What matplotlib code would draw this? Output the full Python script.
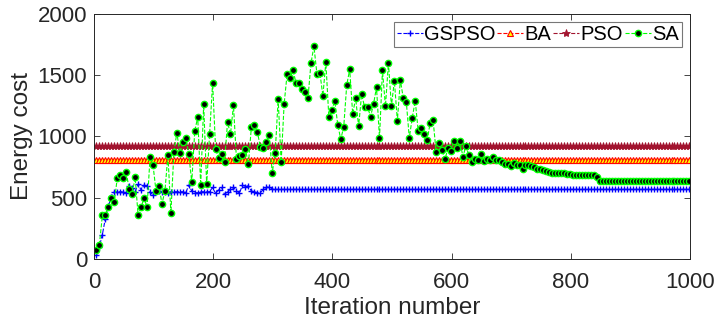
import numpy as np
import matplotlib
matplotlib.use("Agg")
import matplotlib.pyplot as plt

plt.rcParams['font.family'] = ['Liberation Sans', 'DejaVu Sans']

# iteration numbers (one marker every 5 iterations)
iters = np.arange(4, 1000, 5)

# SA energy cost
sa_cost = [
    73, 117, 356, 356, 427, 498, 468, 659, 683, 659,
    707, 571, 531, 667, 356, 422, 500, 422, 830, 767,
    555, 593, 451, 555, 849, 375, 871, 1031, 865, 952,
    988, 857, 626, 1045, 1157, 601, 1263, 610, 1020, 1440,
    898, 822, 855, 789, 1116, 1020, 1255, 814, 841, 846,
    900, 773, 1075, 1096, 1040, 917, 903, 958, 1015, 702,
    865, 1306, 792, 1265, 1510, 1480, 1540, 1434, 1434, 1390,
    1363, 1312, 1597, 1736, 1513, 1521, 1331, 1608, 1159, 1219,
    1287, 1096, 977, 1078, 1418, 1548, 1184, 1312, 1083, 1344,
    1241, 1241, 1162, 1265, 1401, 985, 1540, 1246, 1600, 1249,
    1453, 1129, 1461, 1312, 1284, 988, 1153, 1292, 1042, 1067,
    1020, 969, 1110, 1132, 876, 944, 887, 814, 906, 882,
    961, 903, 963, 835, 922, 849, 792, 814, 808, 857,
    800, 819, 811, 830, 805, 808, 794, 776, 776, 759,
    780, 770, 770, 737, 765, 765, 759, 748, 732, 732,
    727, 716, 710, 705, 705, 700, 700, 700, 694, 694,
    688, 683,
] + [683] * 6 + [667] + [637] * 31

# GSPSO energy cost
gspso_cost = [
    30, 100, 200, 330, 430, 510, 549, 549, 549, 549,
    541, 596, 580, 549, 610, 563, 604, 596, 549, 522,
    557, 555, 549, 549, 541, 549, 549, 549, 549, 549,
    541, 604, 555, 541, 541, 549, 549, 549, 549, 584,
    535, 563, 584, 527, 549, 571, 584, 557, 535, 604,
    590, 599, 555, 549, 541, 541, 568, 584, 590, 571,
] + [568] * 140

# BA and PSO stay flat over all iterations
ba_level = 805
pso_level = 922
ba_cost = [ba_level] * len(iters)
pso_cost = [pso_level] * len(iters)

fig = plt.figure(figsize=(7.15, 3.25), dpi=100)
ax = fig.add_axes([0.1315, 0.203, 0.8335, 0.754])

ax.plot(iters, gspso_cost, linestyle='--', color='#0000ff', linewidth=0.8,
        marker='+', markersize=5, markeredgewidth=1.0, label='GSPSO')
ax.plot(iters, ba_cost, linestyle='--', color='#ff0000', linewidth=0.8,
        marker='^', markersize=4, markerfacecolor='#ffff00',
        markeredgecolor='#ff0000', markeredgewidth=0.8, label='BA')
ax.plot(iters, pso_cost, linestyle='--', color='#a2142f', linewidth=0.8,
        marker='*', markersize=6, markeredgewidth=0.6, label='PSO')
ax.plot(iters, sa_cost, linestyle='--', color='#00ff00', linewidth=0.8,
        marker='o', markersize=4.5, markerfacecolor='black',
        markeredgecolor='#00ff00', markeredgewidth=1.0, label='SA')

ax.set_xlim(0, 1000)
ax.set_ylim(0, 2000)
ax.set_xticks([0, 200, 400, 600, 800, 1000])
ax.set_yticks([0, 500, 1000, 1500, 2000])
ax.tick_params(direction='in', top=True, right=True, labelsize=16,
               colors='#262626', length=4, width=0.6)
ax.tick_params(axis='x', pad=9)
ax.tick_params(axis='y', pad=5)
for s in ax.spines.values():
    s.set_color('#262626')
    s.set_linewidth(0.7)

ax.set_xlabel('Iteration number', fontsize=17.5, color='#262626', labelpad=3)
ax.set_ylabel('Energy cost', fontsize=17.5, color='#262626', labelpad=3)

leg = ax.legend(loc='upper right', ncol=4, fontsize=14.5, frameon=True,
                fancybox=False, edgecolor='#555555', handlelength=1.3,
                handletextpad=0.05, columnspacing=0.1, borderpad=0.15,
                borderaxespad=0.4)
leg.get_frame().set_linewidth(0.8)

fig.savefig('out.png', dpi=100)
